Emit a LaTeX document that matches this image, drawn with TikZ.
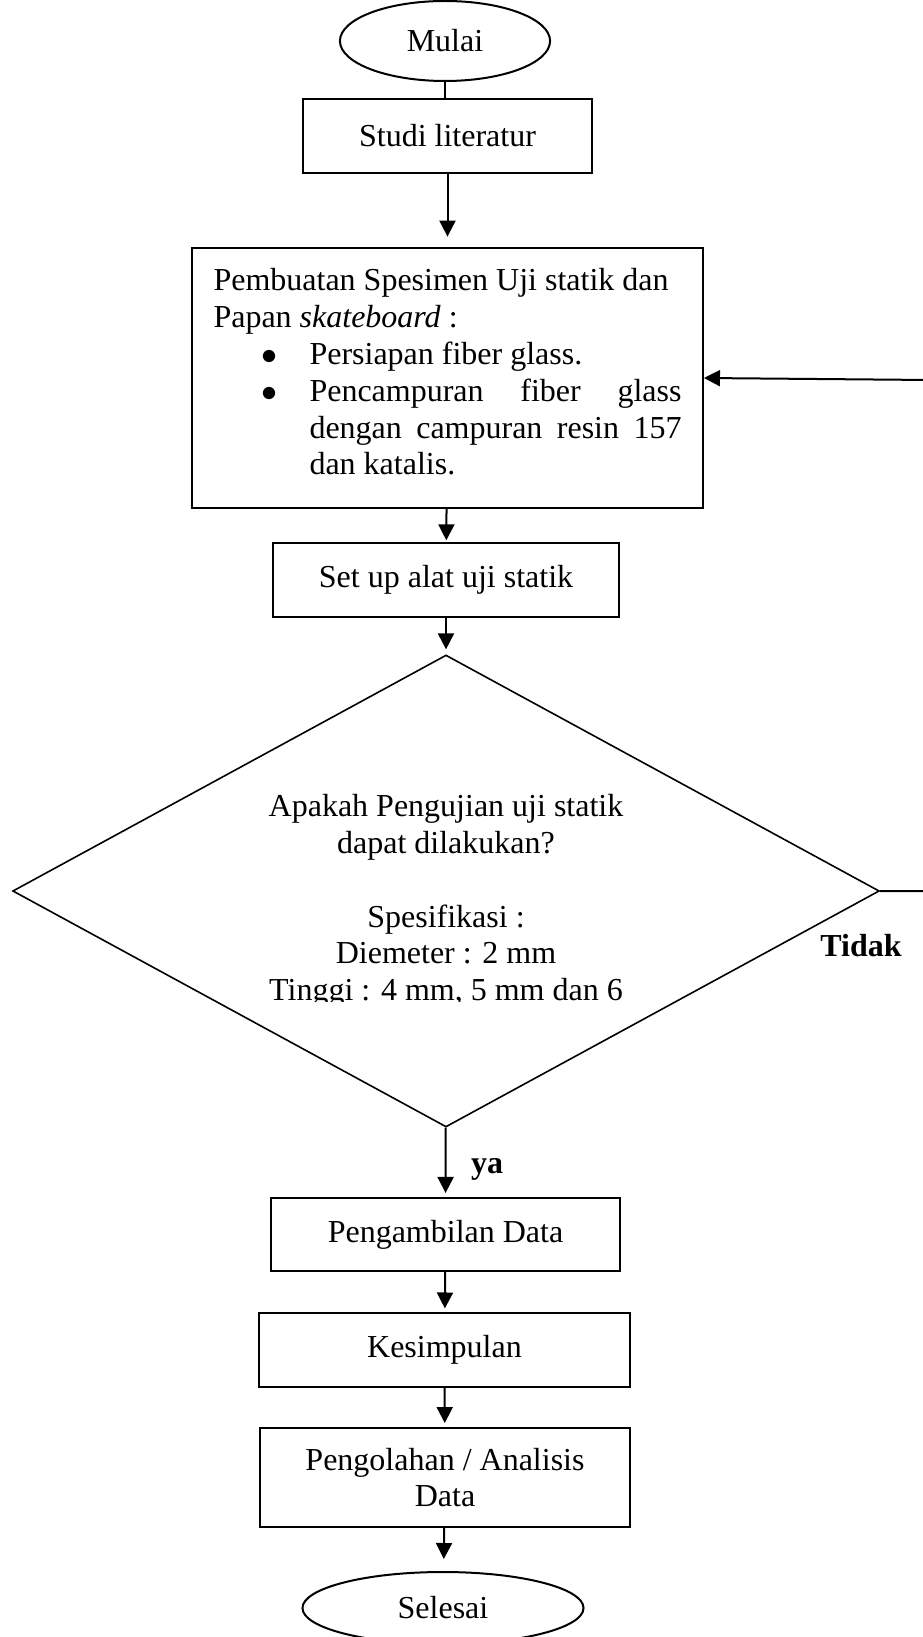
\documentclass[tikz,border=0pt]{standalone}
\usepackage{fontspec}
\setmainfont{Liberation Serif}
\usetikzlibrary{shapes.geometric,arrows.meta}
\newcommand{\flowfont}{\fontsize{12pt}{13.8pt}\selectfont}
\newcommand{\fcbullet}{\leavevmode\llap{\makebox[18pt][l]{$\bullet$}}}
\tikzset{
  proses/.style={draw, line width=0.75pt, minimum height=27.4pt, inner sep=0pt},
  terminal/.style={draw, ellipse, line width=0.75pt, inner sep=0pt},
  keputusan/.style={draw, diamond, line width=0.6pt, inner sep=0pt},
  panah/.style={line width=0.75pt, -{Triangle[length=6pt,width=6pt]}},
  ket/.style={font=\flowfont\bfseries}
}
\begin{document}
\begin{tikzpicture}[x=0.375pt, y=-0.375pt, font=\flowfont]
  \useasboundingbox (0,0) rectangle (922,1637);
  % start and literature
  \node[terminal, minimum width=78.8pt, minimum height=30pt] (mulai) at (445,41) {Mulai};
  \node[proses, minimum width=108.6pt] (studi) at (447.5,136) {Studi literatur};
  % specimen box
  \node[proses, minimum width=191.6pt, minimum height=97.3pt, text width=175.5pt, align=justify] (spesimen) at (447.5,378)
    {Pembuatan Spesimen Uji statik dan\newline
     Papan \textit{skateboard} :\par
     \leftskip=36pt \tolerance=10000 \hyphenpenalty=10000
     \fcbullet Persiapan fiber glass.\par
     \fcbullet Pencampuran fiber glass\linebreak dengan campuran resin 157\linebreak dan katalis.\par
     \vspace{4.5pt}\nointerlineskip\null};
  \node[proses, minimum width=130pt, minimum height=27.6pt] (setup) at (446,580) {Set up alat uji statik};
  % decision
  \node[keputusan, minimum width=325pt, minimum height=177pt] (cek) at (446,891) {};
  \begin{scope}
    \clip (100,700) rectangle (800,1001);
    \node[align=center] (cektext) at (446,901) {Apakah Pengujian uji statik\\ dapat dilakukan?\\[13.8pt]
      Spesifikasi :\\ Diemeter : 2 mm\\ Tinggi : 4 mm, 5 mm dan 6};
  \end{scope}
  \node[ket] (tidak) at (861,946) {Tidak};
  \node[ket] (ya) at (487,1169) {ya};
  % lower steps
  \node[proses, minimum width=130.9pt] (ambil) at (445.5,1234.5) {Pengambilan Data};
  \node[proses, minimum width=139.1pt] (simpulan) at (444.5,1350) {Kesimpulan};
  \node[proses, minimum width=138.8pt, minimum height=37.1pt, align=center] (olah) at (445,1477.5) {Pengolahan / Analisis\\ Data};
  \node[terminal, minimum width=105.4pt, minimum height=27pt] (selesai) at (443,1608) {Selesai};
  % connectors
  \draw[line width=0.75pt] (mulai.south) -- (mulai.south |- studi.north);
  \draw[panah, shorten >=4pt] (studi) -- (spesimen);
  \draw[panah, shorten >=0.7pt] (spesimen) -- (setup);
  \draw[panah, shorten >=1.8pt] (setup) -- (cek);
  \draw[panah, shorten >=1.5pt] (cek) -- (ambil);
  \draw[panah, shorten >=1.5pt] (ambil) -- (simpulan);
  \draw[panah, shorten >=1.5pt] (simpulan) -- (olah);
  \draw[panah, shorten >=4.5pt] (olah) -- (selesai);
  % back to specimen (vertical part lies past the page edge)
  \coordinate (balik) at (930,380);
  \draw[panah] (cek.east) -| (balik) -- (spesimen.east);
\end{tikzpicture}
\end{document}
